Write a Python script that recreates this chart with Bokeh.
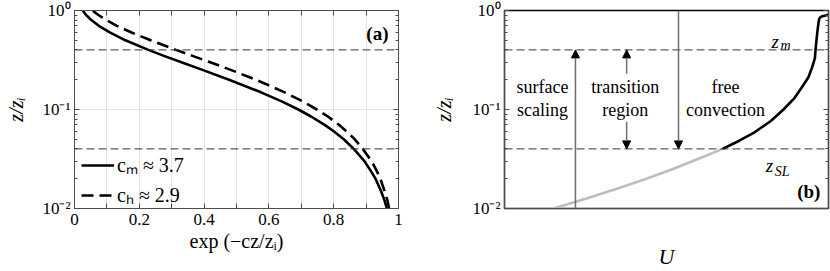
from bokeh.plotting import figure
from bokeh.models import (FixedTicker, LinearAxis, LogAxis, Span, Label, Arrow,
                          NormalHead, Legend, LegendItem, Range1d)
from bokeh.layouts import row
from bokeh.embed import file_html
from bokeh.resources import INLINE

# ---------------- data ----------------
# panel (a): exp(-c z/z_i) profiles
z_a = [0.01, 0.012, 0.015, 0.02, 0.025, 0.03, 0.04, 0.05, 0.06, 0.07, 0.085, 0.1, 0.12, 0.15,
       0.2, 0.25, 0.3, 0.35, 0.4, 0.5, 0.6, 0.7, 0.8, 0.9, 1.0]
cm_vals = [0.964, 0.957, 0.946, 0.929, 0.911, 0.895, 0.862, 0.831, 0.801, 0.772, 0.730, 0.691,
           0.641, 0.574, 0.477, 0.397, 0.330, 0.274, 0.228, 0.157, 0.109, 0.075, 0.052, 0.036,
           0.025]
ch_vals = [0.971, 0.966, 0.957, 0.944, 0.930, 0.917, 0.890, 0.865, 0.840, 0.816, 0.782, 0.748,
           0.706, 0.647, 0.560, 0.484, 0.419, 0.362, 0.313, 0.235, 0.176, 0.131, 0.098, 0.074,
           0.055]
cm_label = "cₘ ≈ 3.7"
ch_label = "cₕ ≈ 2.9"

# panel (b): schematic mean wind profile U(z)
z_sl_part = [0.01, 0.0126, 0.0159, 0.02, 0.0252, 0.0318, 0.04]
u_sl_part = [0.151, 0.253, 0.349, 0.438, 0.522, 0.599, 0.673]
z_fc_part = [0.04, 0.0481, 0.058, 0.0766, 0.1, 0.1305, 0.17, 0.212, 0.27, 0.33, 0.4, 0.587,
             0.79, 0.83, 0.857, 0.875, 0.89, 0.905]
u_fc_part = [0.673, 0.723, 0.769, 0.822, 0.861, 0.895, 0.919, 0.938, 0.950, 0.958, 0.960, 0.965,
             0.970, 0.972, 0.975, 0.981, 0.991, 0.999]

z_markers = [0.4, 0.04]          # z_m and z_SL

x_ticks_a = [0, 0.1, 0.2, 0.3, 0.4, 0.5, 0.6, 0.7, 0.8, 0.9, 1.0]
x_tick_labels_a = ["0", "", "0.2", "", "0.4", "", "0.6", "", "0.8", "", "1"]
y_ticks = [0.01, 0.1, 1.0]
y_tick_labels = ["10⁻²", "10⁻¹", "10⁰"]
y_minor = [0.02, 0.03, 0.04, 0.05, 0.06, 0.07, 0.08, 0.09,
           0.2, 0.3, 0.4, 0.5, 0.6, 0.7, 0.8, 0.9]

SERIF = "Liberation Serif"
AX = "#4d4d4d"


def style_axis(ax, ticks, labels=None):
    ax.axis_line_color = AX
    ax.axis_line_width = 1
    ax.major_tick_line_color = AX
    ax.minor_tick_line_color = AX
    ax.major_tick_in = 5
    ax.major_tick_out = 0
    ax.minor_tick_in = 3
    ax.minor_tick_out = 0
    ax.major_label_text_font = SERIF
    ax.major_label_text_font_size = "17px"
    ax.major_label_text_color = "#000000"
    ax.axis_label_text_font = SERIF
    ax.axis_label_text_color = "#000000"
    if labels is None:
        labels = [""] * len(ticks)
        ax.major_label_standoff = 0
    ax.major_label_overrides = {t: l for t, l in zip(ticks, labels)}


def log_ticker():
    return FixedTicker(ticks=y_ticks, minor_ticks=y_minor)


def lab(p, x, y, text, size, style="normal", align="center"):
    p.add_layout(Label(x=x, y=y, text=text, text_align=align, text_baseline="middle",
                       text_font=SERIF, text_font_size=size, text_font_style=style,
                       text_color="#000000"))


# ---------------- panel (a) ----------------
p1 = figure(width=412, height=271, x_range=Range1d(0, 1), y_range=Range1d(0.01, 1),
            y_axis_type="log", output_backend="svg", toolbar_location=None,
            min_border_left=74, min_border_right=14, min_border_top=10, min_border_bottom=62)
p1.outline_line_color = "#000000"

p1.xaxis.ticker = FixedTicker(ticks=x_ticks_a)
style_axis(p1.xaxis[0], x_ticks_a, x_tick_labels_a)
p1.yaxis.ticker = log_ticker()
style_axis(p1.yaxis[0], y_ticks, y_tick_labels)
p1.xaxis.major_label_standoff = 5
p1.yaxis.major_label_standoff = 4
p1.xaxis.axis_label = "exp (−cz/zᵢ)"
p1.xaxis.axis_label_text_font_size = "20px"
p1.xaxis.axis_label_text_font_style = "normal"
p1.xaxis.axis_label_standoff = 2
p1.yaxis.axis_label = "z/zᵢ"
p1.yaxis.axis_label_text_font_size = "20px"
p1.yaxis.axis_label_text_font_style = "italic"
p1.yaxis.axis_label_standoff = 12

p1.xgrid.ticker = FixedTicker(ticks=x_ticks_a)
p1.xgrid.grid_line_color = "#e3e3e3"
p1.ygrid.grid_line_color = "#e3e3e3"

top_ax = LinearAxis(ticker=FixedTicker(ticks=x_ticks_a))
style_axis(top_ax, x_ticks_a)
p1.add_layout(top_ax, "above")
right_ax = LogAxis(ticker=log_ticker())
style_axis(right_ax, y_ticks)
p1.add_layout(right_ax, "right")

for zm in z_markers:
    p1.add_layout(Span(location=zm, dimension="width", line_color="#333333",
                       line_width=1, line_dash="8 4"))

r_cm = p1.line(cm_vals, z_a, line_color="black", line_width=2.6)
r_ch = p1.line(ch_vals, z_a, line_color="black", line_width=2.6, line_dash="12 6")

legend = Legend(items=[LegendItem(label=cm_label, renderers=[r_cm]),
                       LegendItem(label=ch_label, renderers=[r_ch])],
                location=(7, 0), border_line_color=None,
                background_fill_alpha=0,
                padding=4, spacing=3, glyph_width=33, glyph_height=24, label_height=24,
                label_standoff=3, label_text_font=SERIF, label_text_font_size="20px",
                label_text_color="#000000")
p1.add_layout(legend)

lab(p1, 0.969, 0.587, "(a)", "19px", "bold", "right")

# ---------------- panel (b) ----------------
p2 = figure(width=418, height=271, x_range=Range1d(0, 1), y_range=Range1d(0.01, 1),
            y_axis_type="log", output_backend="svg", toolbar_location=None,
            min_border_left=92, min_border_right=2, min_border_top=10, min_border_bottom=62)
p2.outline_line_color = "#000000"
p2.outline_line_width = 1.5
p2.xgrid.visible = False
p2.ygrid.visible = False
p2.xaxis.ticker = FixedTicker(ticks=[0.5])
style_axis(p2.xaxis[0], [0.5])
p2.xaxis.major_tick_in = 0
p2.xaxis.axis_label = "U"
p2.xaxis.axis_label_text_font_size = "22px"
p2.xaxis.axis_label_text_font_style = "italic"
p2.xaxis.axis_label_standoff = 35
p2.yaxis.ticker = log_ticker()
style_axis(p2.yaxis[0], y_ticks, y_tick_labels)
p2.yaxis.major_label_standoff = 4
p2.yaxis.axis_label = "z/zᵢ"
p2.yaxis.axis_label_text_font_size = "20px"
p2.yaxis.axis_label_text_font_style = "italic"
p2.yaxis.axis_label_standoff = 14
right_ax2 = LogAxis(ticker=log_ticker())
style_axis(right_ax2, y_ticks)
p2.add_layout(right_ax2, "right")

for zm in z_markers:
    p2.add_layout(Span(location=zm, dimension="width", line_color="#333333",
                       line_width=1, line_dash="8 4"))

p2.line(u_sl_part, z_sl_part, line_color="#bdbdbd", line_width=2.6)
p2.line(u_fc_part, z_fc_part, line_color="black", line_width=2.6)

ARROW = "#6e6e6e"


def head():
    return NormalHead(size=8, fill_color="black", line_color="black", line_width=1)


p2.add_layout(Arrow(end=head(), x_start=0.219, y_start=0.01, x_end=0.219, y_end=0.4,
                    line_color=ARROW, line_width=1.5))
p2.add_layout(Arrow(end=head(), x_start=0.377, y_start=0.23, x_end=0.377, y_end=0.4,
                    line_color=ARROW, line_width=1.5))
p2.add_layout(Arrow(end=head(), x_start=0.377, y_start=0.075, x_end=0.377, y_end=0.04,
                    line_color=ARROW, line_width=1.5))
p2.add_layout(Arrow(end=head(), x_start=0.537, y_start=1.0, x_end=0.537, y_end=0.04,
                    line_color=ARROW, line_width=1.5))

region_text = [("surface", "scaling", 0.117), ("transition", "region", 0.373),
               ("free", "convection", 0.682)]
for t1, t2, xc in region_text:
    lab(p2, xc, 0.168, t1, "18px")
    lab(p2, xc, 0.1, t2, "18px")

lab(p2, 0.824, 0.49, "z", "19px", "italic", "left")
lab(p2, 0.852, 0.44, "m", "14px", "italic", "left")
lab(p2, 0.806, 0.027, "z", "19px", "italic", "left")
lab(p2, 0.834, 0.0238, "SL", "14px", "italic", "left")
lab(p2, 0.975, 0.0148, "(b)", "19px", "bold", "right")

layout = row(p1, p2)
open("out.html", "w").write(file_html(layout, INLINE))
